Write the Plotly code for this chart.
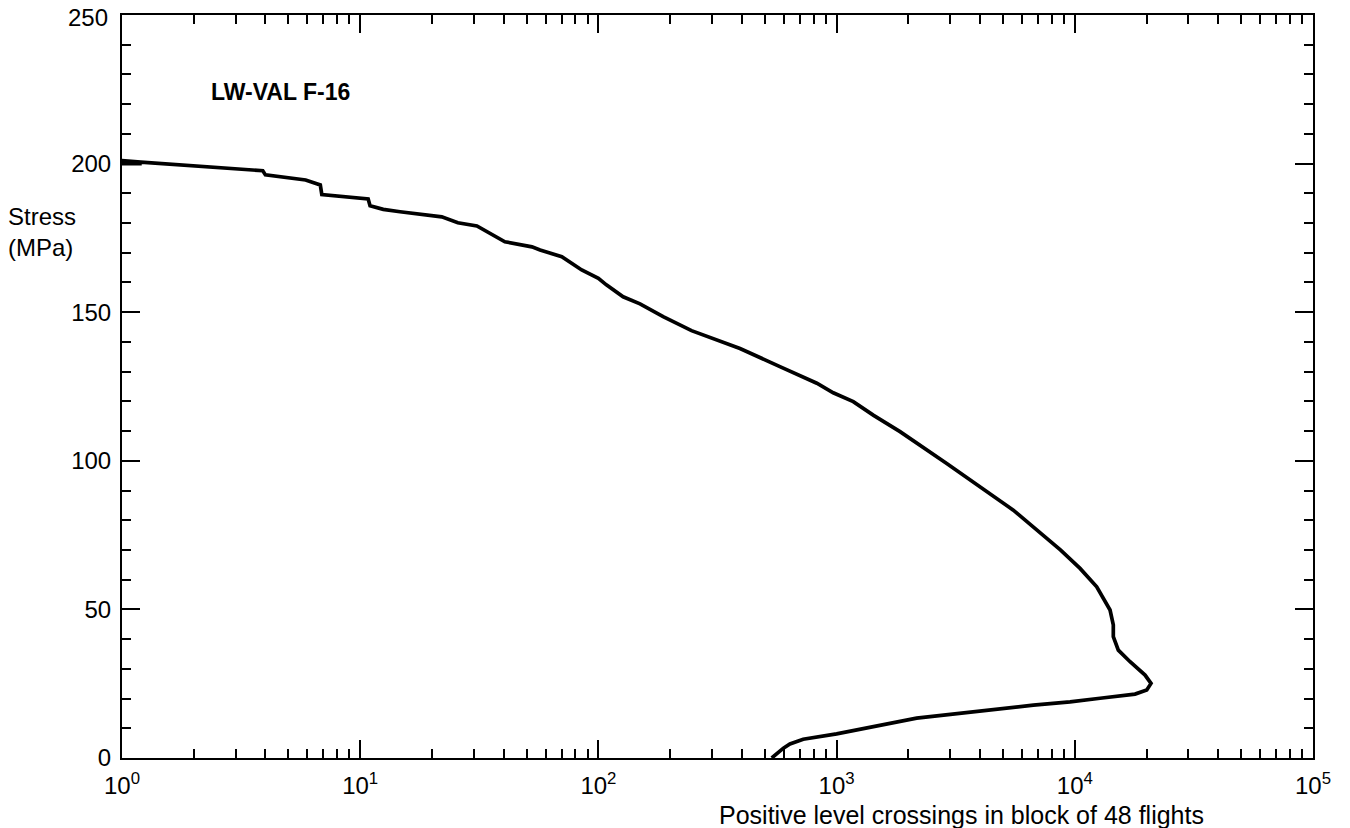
import plotly.graph_objects as go

# Data
crossings = [1.21, 1.0, 1.0, 1.2, 3.9, 4.0, 5.9, 6.8, 6.9, 10.8, 11.0, 12.5, 14.7, 22.0, 25.7, 30.9,
             40.5, 52.6, 56.9, 70.2, 85.1, 100, 108, 127, 149.5, 187, 246, 393, 578, 826, 968,
             1175, 1430, 1846, 2899, 4000, 5520, 8700, 10520, 12360, 13610, 14060, 14510, 14510,
             15230, 17060, 19720, 20890, 20050, 17900, 12770, 9550, 6700, 3750, 2168, 1000, 724,
             637, 598, 534]
stress = [200.0, 200.0, 201.0, 200.5, 197.6, 196.2, 194.5, 192.8, 189.6, 188.1, 185.8, 184.6, 183.8,
          182.1, 180.1, 179.0, 173.7, 172.0, 170.9, 168.7, 164.2, 161.4, 159.2, 155.2, 152.8, 148.5,
          143.8, 137.8, 131.7, 126.1, 122.9, 119.9, 115.3, 109.8, 99.1, 91.3, 83.4, 70.0, 63.8, 57.6,
          52.1, 49.8, 44.8, 40.8, 36.3, 32.4, 27.9, 25.1, 22.9, 21.5, 20.1, 18.9, 17.8, 15.6, 13.4,
          8.1, 6.3, 4.7, 3.3, 0.0]

x_tickvals = [1, 10, 100, 1000, 10000, 100000]
x_ticktext = ["10<sup>0</sup>", "10<sup>1</sup>", "10<sup>2</sup>", "10<sup>3</sup>",
              "10<sup>4</sup>", "10<sup>5</sup>"]
x_minor = [m * 10 ** k for k in range(5) for m in range(2, 10)]
y_tickvals = [0, 50, 100, 150, 200, 250]
y_ticktext = ["0", "50", "100", "150", "200", "250"]

FONT = "Liberation Sans, Arial, sans-serif"

# The page body adds an 8px offset; size the figure to fit the window.
OFF = 8
W, H = 1342, 820
L, R, T, B = 114, 37, 7, 70
PW, PH = W - L - R, H - T - B


def paper(sx, sy):
    """Screen pixel (reference picture) -> paper coordinates."""
    return (sx - OFF - L) / PW, (H - B - (sy - OFF)) / PH


fig = go.Figure()
fig.add_trace(go.Scatter(x=crossings, y=stress, mode="lines",
                         line=dict(color="black", width=3.7), showlegend=False))

# top tick label is drawn as an annotation (slightly lower) so it is not clipped
axis_ticktext = y_ticktext[:-1] + [""]

fig.update_layout(
    width=W, height=H,
    margin=dict(l=L, r=R, t=T, b=B),
    paper_bgcolor="white", plot_bgcolor="white",
    font=dict(family=FONT, size=24, color="black"),
    xaxis=dict(type="log", range=[0, 5], tickvals=x_tickvals, ticktext=x_ticktext,
               ticks="inside", ticklen=18, tickwidth=2, tickcolor="black",
               showline=True, linewidth=2, linecolor="black", mirror="ticks",
               showgrid=False, zeroline=False, automargin=False, ticklabelstandoff=5,
               ticklabeloverflow="allow",
               minor=dict(tickvals=x_minor, ticks="inside", ticklen=9, tickwidth=2,
                          tickcolor="black", showgrid=False),
               tickfont=dict(size=24)),
    yaxis=dict(range=[0, 250], tickvals=y_tickvals, ticktext=axis_ticktext,
               ticks="inside", ticklen=18, tickwidth=2, tickcolor="black",
               showline=True, linewidth=2, linecolor="black", mirror="ticks",
               showgrid=False, zeroline=False, automargin=False, ticklabelstandoff=4,
               ticklabeloverflow="allow",
               minor=dict(dtick=10, ticks="inside", ticklen=9, tickwidth=2,
                          tickcolor="black", showgrid=False),
               tickfont=dict(size=24)),
)

ax, ay = paper(110, 17.5)
fig.add_annotation(x=ax, y=ay, xref="paper", yref="paper", text=y_ticktext[-1],
                   showarrow=False, xanchor="right", yanchor="middle",
                   font=dict(size=24, family=FONT))
ax, ay = paper(209, 92)
fig.add_annotation(x=ax, y=ay, xref="paper", yref="paper", text="<b>LW-VAL F-16</b>",
                   showarrow=False, xanchor="left", yanchor="middle",
                   font=dict(size=23, family=FONT))
ax, ay = paper(6, 232)
fig.add_annotation(x=ax, y=ay, xref="paper", yref="paper", text="Stress<br>(MPa)",
                   showarrow=False, xanchor="left", yanchor="middle", align="left",
                   font=dict(size=24, family=FONT))
ax, ay = paper(961, 815)
fig.add_annotation(x=ax, y=ay, xref="paper", yref="paper",
                   text="Positive level crossings in block of 48 flights",
                   showarrow=False, xanchor="center", yanchor="middle",
                   font=dict(size=25, family=FONT))

fig.write_html("out.html")
